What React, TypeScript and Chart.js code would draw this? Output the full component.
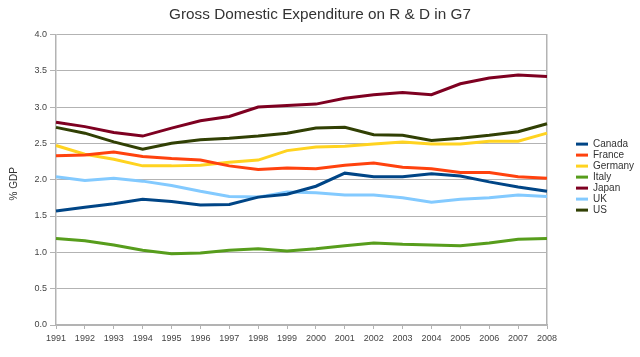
import React, { useEffect, useRef } from "react";
import { Chart, registerables } from "chart.js";

Chart.register(...registerables);

const years = ["1991","1992","1993","1994","1995","1996","1997","1998","1999","2000","2001","2002","2003","2004","2005","2006","2007","2008"];
const canada = [1.57,1.62,1.67,1.73,1.70,1.65,1.66,1.76,1.80,1.91,2.09,2.04,2.04,2.08,2.05,1.97,1.90,1.84];
const france = [2.33,2.34,2.38,2.32,2.29,2.27,2.19,2.14,2.16,2.15,2.20,2.23,2.17,2.15,2.10,2.10,2.04,2.02];
const germany = [2.47,2.35,2.28,2.19,2.19,2.20,2.24,2.27,2.40,2.45,2.46,2.49,2.52,2.49,2.49,2.53,2.53,2.64];
const italy = [1.19,1.16,1.10,1.03,0.98,0.99,1.03,1.05,1.02,1.05,1.09,1.13,1.11,1.10,1.09,1.13,1.18,1.19];
const japan = [2.79,2.73,2.65,2.60,2.71,2.81,2.87,3.00,3.02,3.04,3.12,3.17,3.20,3.17,3.32,3.40,3.44,3.42];
const uk = [2.04,1.99,2.02,1.98,1.92,1.84,1.77,1.76,1.83,1.82,1.79,1.79,1.75,1.69,1.73,1.75,1.79,1.77];
const us = [2.72,2.64,2.52,2.42,2.50,2.55,2.57,2.60,2.64,2.71,2.72,2.62,2.61,2.54,2.57,2.61,2.66,2.77];

const seriesNames = ["Canada","France","Germany","Italy","Japan","UK","US"];
const seriesValues = [canada, france, germany, italy, japan, uk, us];
const seriesColors = ["#004586","#ff420e","#ffd320","#579d1c","#7e0021","#83caff","#314004"];

const FONT = "'Liberation Sans', Arial, sans-serif";
const GRID = "#b3b3b3";

export default function App() {
  const ref = useRef<HTMLCanvasElement | null>(null);
  useEffect(() => {
    if (!ref.current) return;
    const chart = new Chart(ref.current, {
      type: "line",
      data: {
        labels: years,
        datasets: seriesNames.map((n, i) => ({
          label: n,
          data: seriesValues[i],
          borderColor: seriesColors[i],
          backgroundColor: seriesColors[i],
          borderWidth: 3,
          pointRadius: 0,
          tension: 0,
          fill: false,
          yAxisID: "y",
        })),
      },
      options: {
        responsive: false,
        animation: false,
        layout: { padding: { left: 0, right: 0, top: 0, bottom: 10 } },
        plugins: {
          tooltip: { enabled: false },
          title: {
            display: true,
            text: "Gross Domestic Expenditure on R & D in G7",
            color: "#333333",
            font: { family: FONT, size: 15.3, weight: "normal" },
            padding: { top: 6, bottom: 10 },
          },
          legend: {
            position: "right",
            align: "center",
            maxWidth: 65,
            title: { display: true, text: "", font: { size: 6 }, padding: 0 },
            labels: {
              color: "#333333",
              font: { family: FONT, size: 10 },
              boxWidth: 12,
              boxHeight: 3,
              padding: 1,
              generateLabels: (c: any) =>
                Chart.defaults.plugins.legend.labels.generateLabels(c).map((l: any) => ({
                  ...l,
                  lineWidth: 0,
                  strokeStyle: "transparent",
                })),
            },
          },
        },
        scales: {
          x: {
            type: "category",
            offset: false,
            grid: { drawOnChartArea: false, drawTicks: true, tickLength: 4, color: GRID },
            border: { display: true, color: GRID, width: 1.5 },
            ticks: {
              color: "#444444",
              font: { family: FONT, size: 9 },
              maxRotation: 0,
              autoSkip: false,
              padding: 4,
            },
            afterFit: (s: any) => { s.height = 22; },
          },
          y: {
            position: "left",
            min: 0,
            max: 4,
            grid: { color: GRID, tickLength: 6, drawTicks: true },
            border: { display: true, color: GRID, width: 1.5 },
            ticks: {
              stepSize: 0.5,
              color: "#444444",
              font: { family: FONT, size: 9 },
              padding: 3,
              callback: (v: any) => Number(v).toFixed(1),
            },
            title: {
              display: true,
              text: "% GDP   ",
              color: "#333333",
              font: { family: FONT, size: 10 },
              padding: { top: 8, bottom: 0 },
            },
            afterFit: (s: any) => { s.width = 56; },
          },
          y2: {
            position: "right",
            min: 0,
            max: 4,
            grid: { drawOnChartArea: false, drawTicks: false },
            border: { display: true, color: GRID, width: 1.5 },
            ticks: { display: false },
            afterFit: (s: any) => { s.width = 28; },
          },
        },
      },
    } as any);
    return () => chart.destroy();
  }, []);
  return (
    <div style={{ position: "fixed", left: 0, top: 0, width: 640, height: 357, background: "#fff" }}>
      <canvas ref={ref} width={640} height={357} />
    </div>
  );
}
